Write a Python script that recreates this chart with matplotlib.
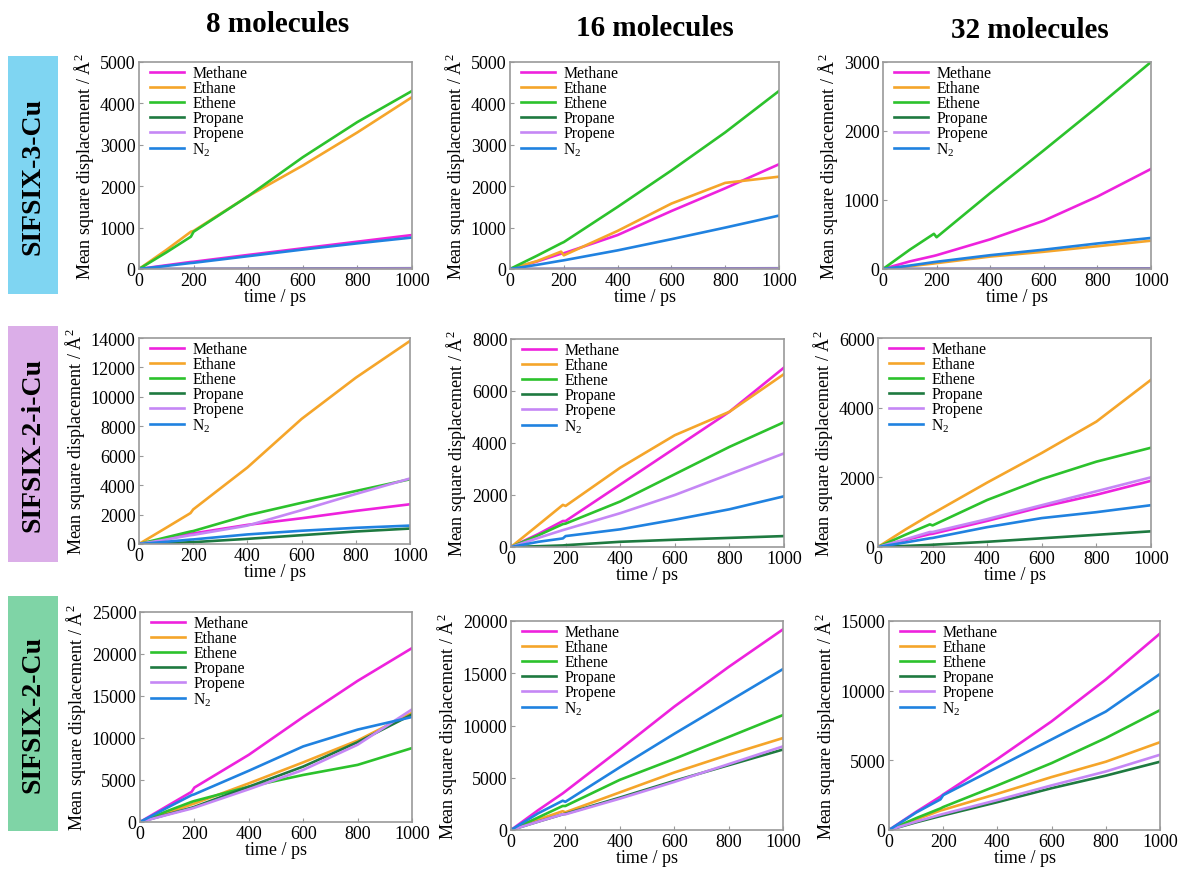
import matplotlib
matplotlib.use("Agg")
import matplotlib.pyplot as plt
from matplotlib.patches import Rectangle

plt.rcParams['font.family'] = ['Liberation Serif', 'DejaVu Serif']
plt.rcParams['mathtext.fontset'] = 'custom'
plt.rcParams['mathtext.rm'] = 'Liberation Serif'
plt.rcParams['mathtext.it'] = 'Liberation Serif:italic'

W, H = 1183, 870

time_ps = [0, 100, 190, 200, 400, 600, 800, 1000]
species = ["Methane", "Ethane", "Ethene", "Propane", "Propene", "N$_2$"]
colors = ["#ee22dd", "#f5a52a", "#2cc22c", "#1e7a40", "#c587f5", "#2082e0"]

column_titles = ["8 molecules", "16 molecules", "32 molecules"]
row_labels = ["SIFSIX-3-Cu", "SIFSIX-2-i-Cu", "SIFSIX-2-Cu"]
row_colors = ["#7fd5f2", "#dbaee8", "#7fd4a6"]

# --- SIFSIX-3-Cu ---
s3_8_methane = [0, 90, 170, 175, 340, 500, 660, 820]
s3_8_ethane = [0, 460, 900, 920, 1760, 2500, 3300, 4150]
s3_8_ethene = [0, 400, 780, 900, 1760, 2700, 3550, 4300]
s3_8_propane = [0, 2, 4, 4, 8, 12, 15, 18]
s3_8_propene = [0, 1, 2, 2, 4, 6, 8, 10]
s3_8_n2 = [0, 75, 145, 150, 310, 470, 620, 760]

s3_16_methane = [0, 180, 370, 380, 820, 1400, 1950, 2530]
s3_16_ethane = [0, 190, 420, 330, 920, 1580, 2080, 2230]
s3_16_ethene = [0, 320, 620, 650, 1500, 2380, 3300, 4300]
s3_16_propane = [0, 2, 4, 4, 8, 12, 15, 18]
s3_16_propene = [0, 1, 2, 2, 4, 6, 8, 10]
s3_16_n2 = [0, 100, 200, 210, 450, 720, 1000, 1290]

s3_32_methane = [0, 110, 190, 200, 430, 700, 1050, 1450]
s3_32_ethane = [0, 40, 80, 85, 180, 250, 330, 410]
s3_32_ethene = [0, 280, 510, 460, 1100, 1720, 2350, 3000]
s3_32_propane = [0, 1, 2, 2, 4, 6, 8, 10]
s3_32_propene = [0, 1, 1, 1, 2, 3, 4, 5]
s3_32_n2 = [0, 50, 100, 105, 200, 280, 370, 450]

# --- SIFSIX-2-i-Cu ---
s2i_8_methane = [0, 350, 700, 720, 1300, 1750, 2250, 2700]
s2i_8_ethane = [0, 1100, 2100, 2350, 5200, 8500, 11300, 13800]
s2i_8_ethene = [0, 450, 850, 880, 1950, 2800, 3600, 4400]
s2i_8_propane = [0, 60, 120, 125, 350, 600, 850, 1050]
s2i_8_propene = [0, 300, 600, 620, 1250, 2300, 3400, 4450]
s2i_8_n2 = [0, 150, 300, 310, 650, 900, 1100, 1250]

s2i_16_methane = [0, 500, 1000, 1000, 2400, 3800, 5200, 6900]
s2i_16_ethane = [0, 850, 1620, 1580, 3050, 4300, 5200, 6650]
s2i_16_ethene = [0, 450, 880, 900, 1750, 2800, 3850, 4800]
s2i_16_propane = [0, 30, 60, 70, 200, 280, 350, 420]
s2i_16_propene = [0, 350, 650, 680, 1300, 2000, 2800, 3600]
s2i_16_n2 = [0, 200, 330, 420, 680, 1050, 1450, 1950]

s2i_32_methane = [0, 200, 370, 380, 750, 1150, 1500, 1900]
s2i_32_ethane = [0, 500, 920, 960, 1850, 2700, 3600, 4800]
s2i_32_ethene = [0, 350, 650, 620, 1350, 1950, 2450, 2850]
s2i_32_propane = [0, 30, 60, 65, 150, 250, 350, 450]
s2i_32_propene = [0, 220, 430, 430, 800, 1200, 1600, 2000]
s2i_32_n2 = [0, 130, 250, 260, 570, 830, 1000, 1200]

# --- SIFSIX-2-Cu ---
s2_8_methane = [0, 1900, 3600, 4100, 8000, 12500, 16800, 20700]
s2_8_ethane = [0, 1100, 2100, 2200, 4600, 7100, 9700, 13000]
s2_8_ethene = [0, 1300, 2400, 2500, 4200, 5600, 6800, 8800]
s2_8_propane = [0, 900, 1700, 1800, 4200, 6600, 9500, 12800]
s2_8_propene = [0, 850, 1600, 1700, 3900, 6200, 9200, 13400]
s2_8_n2 = [0, 1700, 3200, 3300, 6100, 9000, 11000, 12500]

s2_16_methane = [0, 1900, 3500, 3700, 7700, 11800, 15600, 19200]
s2_16_ethane = [0, 1000, 1800, 1700, 3600, 5500, 7200, 8800]
s2_16_ethene = [0, 1200, 2300, 2300, 4800, 6800, 8900, 11000]
s2_16_propane = [0, 800, 1500, 1550, 3100, 4700, 6200, 7700]
s2_16_propene = [0, 800, 1500, 1500, 3000, 4600, 6300, 8000]
s2_16_n2 = [0, 1600, 2800, 2700, 6000, 9200, 12300, 15400]

s2_32_methane = [0, 1300, 2400, 2550, 5100, 7800, 10800, 14100]
s2_32_ethane = [0, 750, 1400, 1450, 2600, 3800, 4900, 6300]
s2_32_ethene = [0, 850, 1550, 1650, 3200, 4800, 6600, 8600]
s2_32_propane = [0, 550, 1000, 1050, 2000, 3000, 3900, 4900]
s2_32_propene = [0, 600, 1100, 1150, 2150, 3200, 4200, 5400]
s2_32_n2 = [0, 1250, 2200, 2500, 4500, 6500, 8500, 11200]

panels = [
    [[s3_8_methane, s3_8_ethane, s3_8_ethene, s3_8_propane, s3_8_propene, s3_8_n2],
     [s3_16_methane, s3_16_ethane, s3_16_ethene, s3_16_propane, s3_16_propene, s3_16_n2],
     [s3_32_methane, s3_32_ethane, s3_32_ethene, s3_32_propane, s3_32_propene, s3_32_n2]],
    [[s2i_8_methane, s2i_8_ethane, s2i_8_ethene, s2i_8_propane, s2i_8_propene, s2i_8_n2],
     [s2i_16_methane, s2i_16_ethane, s2i_16_ethene, s2i_16_propane, s2i_16_propene, s2i_16_n2],
     [s2i_32_methane, s2i_32_ethane, s2i_32_ethene, s2i_32_propane, s2i_32_propene, s2i_32_n2]],
    [[s2_8_methane, s2_8_ethane, s2_8_ethene, s2_8_propane, s2_8_propene, s2_8_n2],
     [s2_16_methane, s2_16_ethane, s2_16_ethene, s2_16_propane, s2_16_propene, s2_16_n2],
     [s2_32_methane, s2_32_ethane, s2_32_ethene, s2_32_propane, s2_32_propene, s2_32_n2]],
]

ymax = [[5000, 5000, 3000], [14000, 8000, 6000], [25000, 20000, 15000]]
ystep = [[1000, 1000, 1000], [2000, 2000, 2000], [5000, 5000, 5000]]

# axes boxes in pixels: left, right, top, bottom
boxes = [
    [(139, 412, 63, 270), (510, 779, 63, 270), (883, 1151, 63, 270)],
    [(139, 410, 339, 545), (511, 784, 340, 548), (878, 1151, 339, 548)],
    [(140, 412, 613, 823), (511, 783, 622, 831), (889, 1160, 622, 831)],
]

fig = plt.figure(figsize=(W / 100, H / 100), dpi=100)
fig.patch.set_facecolor("white")

for r in range(3):
    for c in range(3):
        l, rr, t, b = boxes[r][c]
        ax = fig.add_axes([l / W, 1 - b / H, (rr - l) / W, (b - t) / H])
        for k, vals in enumerate(panels[r][c]):
            ax.plot(time_ps, vals, color=colors[k], lw=1.9, label=species[k])
        ax.set_xlim(0, 1000)
        ax.set_ylim(0, ymax[r][c])
        ax.set_xticks(range(0, 1001, 200))
        ax.set_yticks(range(0, ymax[r][c] + 1, ystep[r][c]))
        ax.tick_params(direction="in", length=3, color="#999999", labelsize=13, pad=2.5)
        for sp in ax.spines.values():
            sp.set_color("#999999")
            sp.set_linewidth(1.2)
        ax.set_xlabel("time / ps", fontsize=13, labelpad=-1)
        ax.set_ylabel("Mean square displacement / Å$^2$", fontsize=13, labelpad=3)
        ax.legend(loc="upper left", frameon=False, fontsize=11.3, labelspacing=-0.06,
                  handlelength=2.2, handletextpad=0.5, borderaxespad=0.0,
                  borderpad=0.0, bbox_to_anchor=(0.04, 0.985))

title_x = [278, 655, 1030]
title_y = [25, 28, 30]
for c in range(3):
    fig.text(title_x[c] / W, 1 - title_y[c] / H, column_titles[c], ha="center", va="center",
             fontsize=21, fontweight="bold", family="Liberation Serif")

row_boxes = [(8, 58, 57, 295), (8, 58, 327, 563), (8, 58, 597, 832)]
for r in range(3):
    x0, x1, y0, y1 = row_boxes[r]
    fig.patches.append(Rectangle((x0 / W, 1 - y1 / H), (x1 - x0) / W, (y1 - y0) / H,
                                 transform=fig.transFigure, facecolor=row_colors[r],
                                 edgecolor="none", zorder=0))
    fig.text((x0 + x1) / 2 / W, 1 - (y0 + y1) / 2 / H, row_labels[r], rotation=90,
             ha="center", va="center", fontsize=20, fontweight="bold",
             family="Liberation Serif")

fig.savefig("out.png", dpi=100)
